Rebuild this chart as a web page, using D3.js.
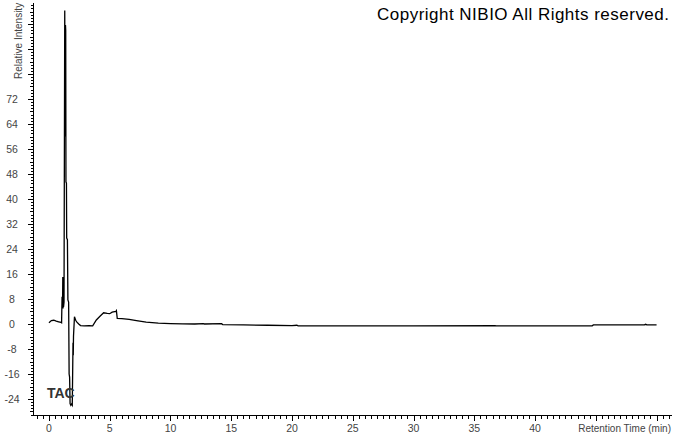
<!DOCTYPE html>
<html><head><meta charset="utf-8">
<script src="https://cdn.jsdelivr.net/npm/d3@7/dist/d3.min.js"></script>
<style>
html,body{margin:0;padding:0;background:#fff;overflow:hidden}
text{font-family:Arial,"Liberation Sans",sans-serif}
</style></head>
<body>
<svg id="c" width="674" height="434"></svg>
<script>
// Retention time (min) and relative intensity
const time = [0,0.2,0.4,0.6,0.8,1.0,1.04,1.08,1.12,1.14,1.16,1.18,1.20,1.24,1.30,1.33,1.36,1.38,1.40,1.44,1.46,1.52,1.56,1.62,1.66,1.70,1.74,1.80,1.86,1.92,1.98,2.0,2.02,2.10,2.2,2.3,2.45,2.6,2.9,3.3,3.6,3.9,4.2,4.5,4.8,5.0,5.2,5.5,5.55,5.62,6.0,6.6,7.2,8.0,9.0,10,11,12,12.7,12.8,14.2,14.3,16,18,20,20.4,20.5,25,30,36.7,36.8,40,44.7,44.8,49,49.1,49.2,50];
const intensity = [0.4,1.1,1.2,0.9,0.7,0.5,0.4,8.7,6,15,5,14,5.5,7,100.3,60,95.7,94,45.5,45,27.5,27,7.7,7,-16,-17,-25.5,-26,-25.6,-26,-6,-10,-4,2.3,1.2,0.6,0,-0.5,-0.6,-0.5,-0.6,1.3,2.5,3.6,3.4,3.3,3.8,4.0,4.3,1.8,1.7,1.5,1.1,0.6,0.3,0.15,0.05,0,0.1,0,0.1,-0.2,-0.3,-0.4,-0.5,-0.4,-0.6,-0.6,-0.6,-0.5,-0.6,-0.6,-0.6,-0.3,-0.3,-0.1,-0.3,-0.3];
const xTickLabels = [0,5,10,15,20,25,30,35,40];
const yTickLabels = [-24,-16,-8,0,8,16,24,32,40,48,56,64,72];

const svg = d3.select("#c");
const x = d3.scaleLinear().domain([-1.23, 51.27]).range([34, 672]);
const y = d3.scaleLinear().domain([-29.12, 102.72]).range([415, 3]);

const axisColor = "#000";
const labelColor = "#444";

// X axis
const gx = svg.append("g").attr("shape-rendering","crispEdges");
gx.append("line").attr("x1",34).attr("x2",672).attr("y1",415.5).attr("y2",415.5).attr("stroke",axisColor);
const xMinor = d3.range(-1, 51.01, 0.5);
gx.selectAll(".xm").data(xMinor).join("line")
  .attr("x1",d=>Math.round(x(d))+0.5).attr("x2",d=>Math.round(x(d))+0.5)
  .attr("y1",415.5).attr("y2",d=> (Math.abs(d%5)<1e-9)?421:418.5)
  .attr("stroke",axisColor);
svg.selectAll(".xl").data(xTickLabels).join("text")
  .attr("x",d=>x(d)).attr("y",432).attr("text-anchor","middle")
  .attr("font-size","10.5px").attr("fill",labelColor).text(d=>d);
svg.append("text").attr("x",671).attr("y",432).attr("text-anchor","end")
  .attr("font-size","10px").attr("fill",labelColor).text("Retention Time (min)");

// Y axis
const gy = svg.append("g").attr("shape-rendering","crispEdges");
gy.append("line").attr("x1",33.5).attr("x2",33.5).attr("y1",3).attr("y2",415.5).attr("stroke",axisColor);
const yMinor = d3.range(-29, 102.01, 1);
gy.selectAll(".ym").data(yMinor).join("line")
  .attr("y1",d=>Math.round(y(d))+0.5).attr("y2",d=>Math.round(y(d))+0.5)
  .attr("x1",33.5).attr("x2",d=> (((d%8)+8)%8===0)?28:(((d%4)+4)%4===0?30:31))
  .attr("stroke",axisColor);
svg.selectAll(".yl").data(yTickLabels).join("text")
  .attr("x",12).attr("y",d=>y(d)).attr("dy","0.35em").attr("text-anchor","middle")
  .attr("font-size","10.5px").attr("fill",labelColor).text(d=>d);
svg.append("text").attr("transform","translate(22,79) rotate(-90)")
  .attr("text-anchor","start").attr("font-size","10px").attr("fill",labelColor)
  .text("Relative Intensity");

// Trace
const pts = time.map((t,i)=>[t,intensity[i]]);
svg.append("path").datum(pts)
  .attr("d", d3.line().x(d=>x(d[0])).y(d=>y(d[1])))
  .attr("fill","none").attr("stroke","#000").attr("stroke-width",1.3)
  .attr("stroke-linejoin","miter");

// Labels
svg.append("text").attr("x",47).attr("y",398).attr("font-size","14px")
  .attr("font-weight","bold").attr("fill","#333").text("TAC");
svg.append("text").attr("x",669).attr("y",20).attr("text-anchor","end")
  .attr("font-size","17px").attr("textLength",292).attr("lengthAdjust","spacing")
  .attr("fill","#000").text("Copyright NIBIO All Rights reserved.");
</script>
</body></html>
